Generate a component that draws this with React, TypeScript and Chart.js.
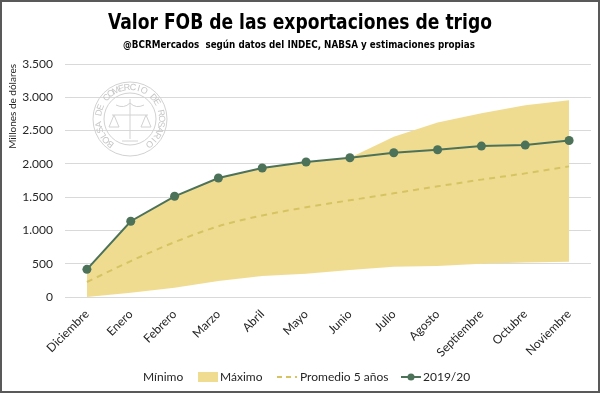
import React, { useEffect, useRef } from 'react';
import { Chart, registerables } from 'chart.js';

Chart.register(...registerables);

const categories = ['Diciembre', 'Enero', 'Febrero', 'Marzo', 'Abril', 'Mayo', 'Junio', 'Julio', 'Agosto', 'Septiembre', 'Octubre', 'Noviembre'];
const minimo = [0, 65, 140, 240, 315, 350, 404, 455, 464, 500, 520, 530];
const maximo = [415, 1138, 1513, 1788, 1938, 2028, 2092, 2407, 2621, 2761, 2881, 2956];
const promedio = [225, 539, 824, 1063, 1224, 1348, 1453, 1557, 1662, 1763, 1857, 1962];
const campania = [415, 1138, 1513, 1788, 1938, 2028, 2092, 2167, 2212, 2267, 2282, 2351];

const TITLE = 'Valor FOB de las exportaciones de trigo';
const SUBTITLE = '@BCRMercados  según datos del INDEC, NABSA y estimaciones propias';
const Y_TITLE = 'Millones de dólares';
const LEGEND_LABELS = ['Mínimo', 'Máximo', 'Promedio 5 años', '2019/20'];
const SEAL_TEXT = 'BOLSA DE COMERCIO DE ROSARIO';

const YELLOW = '#F0DC91';
const DASH = '#D6C462';
const GREEN = '#4C7259';
const TEXT = '#262626';
const FONT = 'Lato, "Open Sans", sans-serif';
const NARROW = '"Liberation Sans Narrow", "DejaVu Sans Condensed", sans-serif';

function fitText(ctx: CanvasRenderingContext2D, text: string, cx: number, y: number, width: number) {
  const w = ctx.measureText(text).width;
  ctx.save();
  ctx.translate(cx, y);
  ctx.scale(width / w, 1);
  ctx.textAlign = 'center';
  ctx.textBaseline = 'alphabetic';
  ctx.fillText(text, 0, 0);
  ctx.restore();
}

const decorPlugin = {
  id: 'decor',
  beforeDraw(chart: any) {
    const ctx = chart.ctx;
    ctx.save();
    ctx.fillStyle = '#ffffff';
    ctx.fillRect(0, 0, chart.width, chart.height);
    ctx.restore();
  },
  beforeDatasetsDraw(chart: any) {
    // watermark seal
    const ctx = chart.ctx;
    const cx = 130, cy = 119;
    ctx.save();
    ctx.strokeStyle = '#d2d2d2';
    ctx.fillStyle = '#c6c6c6';
    ctx.lineWidth = 1;
    ctx.beginPath();
    ctx.arc(cx, cy, 37, 0, Math.PI * 2);
    ctx.stroke();
    ctx.beginPath();
    ctx.arc(cx, cy, 26, 0, Math.PI * 2);
    ctx.stroke();
    ctx.font = '9px "Liberation Sans Narrow", "Liberation Sans", sans-serif';
    ctx.textAlign = 'center';
    ctx.textBaseline = 'middle';
    const start = (128 * Math.PI) / 180;
    const end = (412 * Math.PI) / 180;
    const n = SEAL_TEXT.length;
    for (let i = 0; i < n; i++) {
      const a = start + ((end - start) * i) / (n - 1);
      ctx.save();
      ctx.translate(cx + 31.5 * Math.cos(a), cy + 31.5 * Math.sin(a));
      ctx.rotate(a + Math.PI / 2);
      ctx.fillText(SEAL_TEXT[i], 0, 0);
      ctx.restore();
    }
    // simple scale / caduceus
    ctx.beginPath();
    ctx.moveTo(cx, cy - 20);
    ctx.lineTo(cx, cy + 20);
    ctx.moveTo(cx - 18, cy - 4);
    ctx.lineTo(cx + 18, cy - 4);
    ctx.moveTo(cx - 16, cy - 4);
    ctx.lineTo(cx - 21, cy + 8);
    ctx.lineTo(cx - 11, cy + 8);
    ctx.closePath();
    ctx.moveTo(cx + 16, cy - 4);
    ctx.lineTo(cx + 11, cy + 8);
    ctx.lineTo(cx + 21, cy + 8);
    ctx.closePath();
    ctx.moveTo(cx - 14, cy - 14);
    ctx.quadraticCurveTo(cx - 6, cy - 10, cx, cy - 16);
    ctx.quadraticCurveTo(cx + 6, cy - 10, cx + 14, cy - 14);
    ctx.moveTo(cx - 8, cy + 22);
    ctx.lineTo(cx + 8, cy + 22);
    ctx.stroke();
    ctx.restore();
  },
  afterDraw(chart: any) {
    const ctx = chart.ctx;
    ctx.save();
    ctx.fillStyle = '#000000';
    ctx.font = `bold 21px ${NARROW}`;
    fitText(ctx, TITLE, 300, 29, 384);
    ctx.font = `bold 11px ${NARROW}`;
    fitText(ctx, SUBTITLE, 299, 48, 352);

    // legend
    const ly = 377;
    ctx.font = `12px ${FONT}`;
    ctx.fillStyle = TEXT;
    ctx.textBaseline = 'middle';
    ctx.textAlign = 'left';
    ctx.fillText(LEGEND_LABELS[0], 143, ly);
    ctx.fillStyle = YELLOW;
    ctx.fillRect(198, ly - 5, 20, 10);
    ctx.fillStyle = TEXT;
    ctx.fillText(LEGEND_LABELS[1], 220, ly);
    ctx.strokeStyle = DASH;
    ctx.lineWidth = 2;
    ctx.setLineDash([5, 4]);
    ctx.beginPath();
    ctx.moveTo(277, ly);
    ctx.lineTo(297, ly);
    ctx.stroke();
    ctx.setLineDash([]);
    ctx.fillText(LEGEND_LABELS[2], 300, ly);
    ctx.strokeStyle = GREEN;
    ctx.beginPath();
    ctx.moveTo(401, ly);
    ctx.lineTo(421, ly);
    ctx.stroke();
    ctx.fillStyle = GREEN;
    ctx.beginPath();
    ctx.arc(411, ly, 3.5, 0, Math.PI * 2);
    ctx.fill();
    ctx.fillStyle = TEXT;
    ctx.fillText(LEGEND_LABELS[3], 423, ly);

    // frame
    ctx.strokeStyle = '#595959';
    ctx.lineWidth = 2;
    ctx.strokeRect(1, 1, chart.width - 2, chart.height - 2);
    ctx.restore();
  },
};

export default function App() {
  const ref = useRef<HTMLCanvasElement>(null);

  useEffect(() => {
    document.body.style.margin = '0';
    const canvas = ref.current;
    if (!canvas) return;
    const chart = new Chart(canvas, {
      type: 'line',
      data: {
        labels: categories,
        datasets: [
          {
            label: LEGEND_LABELS[0],
            data: minimo,
            borderWidth: 0,
            borderColor: 'rgba(0,0,0,0)',
            pointRadius: 0,
            fill: false,
            order: 4,
          },
          {
            label: LEGEND_LABELS[1],
            data: maximo,
            borderWidth: 0,
            borderColor: 'rgba(0,0,0,0)',
            backgroundColor: YELLOW,
            pointRadius: 0,
            fill: '-1',
            order: 3,
          },
          {
            label: LEGEND_LABELS[2],
            data: promedio,
            borderColor: DASH,
            borderWidth: 2,
            borderDash: [6, 5],
            pointRadius: 0,
            fill: false,
            cubicInterpolationMode: 'monotone',
            order: 2,
          },
          {
            label: LEGEND_LABELS[3],
            data: campania,
            borderColor: GREEN,
            backgroundColor: GREEN,
            borderWidth: 2,
            pointRadius: 4.5,
            pointBorderWidth: 0,
            pointBackgroundColor: GREEN,
            pointBorderColor: GREEN,
            fill: false,
            order: 1,
          },
        ],
      },
      options: {
        responsive: false,
        animation: false,
        events: [],
        layout: { padding: { left: 0, top: 64, right: 9, bottom: 0 } },
        plugins: {
          legend: { display: false },
          title: { display: false },
          tooltip: { enabled: false },
        },
        scales: {
          x: {
            offset: true,
            grid: { display: false },
            border: { display: false },
            ticks: {
              autoSkip: false,
              maxRotation: 45,
              minRotation: 45,
              padding: 2,
              color: TEXT,
              font: { family: FONT, size: 12 },
            },
            afterFit: (scale: any) => {
              scale.height = 96;
            },
          },
          y: {
            min: 0,
            max: 3500,
            ticks: {
              stepSize: 500,
              padding: 12,
              color: TEXT,
              font: { family: FONT, size: 12 },
              callback: (v: any) => Number(v).toLocaleString('de-DE'),
            },
            grid: { color: '#D9D9D9', drawTicks: false, lineWidth: 1 },
            border: { display: false },
            title: {
              display: true,
              text: Y_TITLE,
              align: 'end',
              color: TEXT,
              font: { family: FONT, size: 10 },
              padding: { top: 7, bottom: 0 },
            },
            afterFit: (scale: any) => {
              scale.width = 65;
            },
          },
        },
      },
      plugins: [decorPlugin],
    } as any);
    return () => chart.destroy();
  }, []);

  return (
    <div style={{ width: 600, height: 393 }}>
      <canvas ref={ref} width={600} height={393} style={{ display: 'block', width: 600, height: 393 }} />
    </div>
  );
}
